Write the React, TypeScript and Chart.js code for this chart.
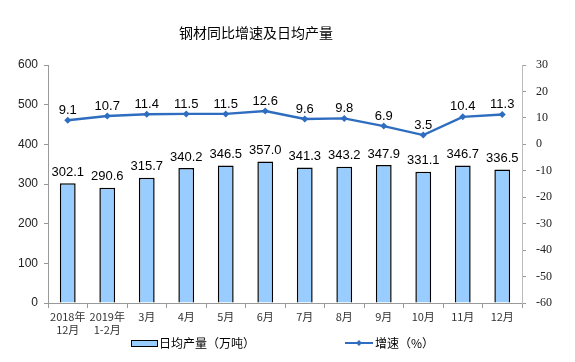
import React, { useEffect, useRef } from "react";
import { Chart, registerables } from "chart.js";

Chart.register(...registerables);

const categories: string[][] = [
  ["2018年", "12月"], ["2019年", "1-2月"], ["3月"], ["4月"], ["5月"], ["6月"],
  ["7月"], ["8月"], ["9月"], ["10月"], ["11月"], ["12月"],
];
const dailyOutput = [302.1, 290.6, 315.7, 340.2, 346.5, 357.0, 341.3, 343.2, 347.9, 331.1, 346.7, 336.5];
const growthRate = [9.1, 10.7, 11.4, 11.5, 11.5, 12.6, 9.6, 9.8, 6.9, 3.5, 10.4, 11.3];
const title = "钢材同比增速及日均产量";
const barLabel = "日均产量（万吨）";
const lineLabel = "增速（%）";

const BAR_FILL = "#99CCFF";
const LINE_COLOR = "#2E6DBF";

const overlay = {
  id: "overlay",
  afterDatasetsDraw(chart: any) {
    const ctx = chart.ctx;
    ctx.save();
    // data labels
    ctx.fillStyle = "#000";
    ctx.textAlign = "center";
    ctx.textBaseline = "middle";
    ctx.font = "13px 'Liberation Sans', Arial, sans-serif";
    const barMeta = chart.getDatasetMeta(0);
    barMeta.data.forEach((el: any, i: number) => {
      ctx.fillText(dailyOutput[i].toFixed(1), el.x, el.y - 11);
    });
    const lineMeta = chart.getDatasetMeta(1);
    lineMeta.data.forEach((el: any, i: number) => {
      ctx.fillText(growthRate[i].toFixed(1), el.x, el.y - 10);
    });
    // title
    ctx.font = "14px 'Noto Sans CJK SC', sans-serif";
    ctx.fillText(title, 256, 33);
    // legend
    const ly = 343;
    ctx.fillStyle = BAR_FILL;
    ctx.fillRect(131, ly - 3, 26, 6);
    ctx.strokeStyle = "#000";
    ctx.lineWidth = 1;
    ctx.strokeRect(131.5, ly - 2.5, 26, 6);
    ctx.fillStyle = "#000";
    ctx.textAlign = "left";
    ctx.font = "12px 'Noto Sans CJK SC', sans-serif";
    ctx.fillText(barLabel, 159, ly);
    ctx.strokeStyle = LINE_COLOR;
    ctx.lineWidth = 2;
    ctx.beginPath();
    ctx.moveTo(345, ly);
    ctx.lineTo(373, ly);
    ctx.stroke();
    ctx.fillStyle = LINE_COLOR;
    ctx.beginPath();
    ctx.moveTo(359, ly - 3);
    ctx.lineTo(362, ly);
    ctx.lineTo(359, ly + 3);
    ctx.lineTo(356, ly);
    ctx.closePath();
    ctx.fill();
    ctx.fillStyle = "#000";
    ctx.fillText(lineLabel, 375, ly);
    ctx.restore();
  },
};

export default function App() {
  const ref = useRef<HTMLCanvasElement>(null);
  useEffect(() => {
    if (!ref.current) return;
    const chart = new Chart(ref.current, {
      type: "bar",
      data: {
        labels: categories,
        datasets: [
          {
            type: "bar",
            label: barLabel,
            data: dailyOutput,
            backgroundColor: BAR_FILL,
            borderColor: "#000",
            borderWidth: 1.5,
            barPercentage: 0.4,
            categoryPercentage: 1,
            yAxisID: "y",
            order: 2,
          },
          {
            type: "line",
            label: lineLabel,
            data: growthRate,
            borderColor: LINE_COLOR,
            backgroundColor: LINE_COLOR,
            borderWidth: 2.4,
            pointStyle: "rectRot",
            pointRadius: 3.5,
            pointBorderWidth: 0,
            tension: 0,
            yAxisID: "y1",
            order: 1,
          } as any,
        ],
      },
      options: {
        responsive: false,
        animation: false,
        layout: { padding: { top: 65, left: 0, right: 0, bottom: 0 } },
        plugins: { legend: { display: false }, tooltip: { enabled: false }, title: { display: false } },
        scales: {
          x: {
            offset: true,
            grid: { offset: true, drawOnChartArea: false, drawTicks: true, tickLength: 5, color: "#999" },
            border: { color: "#999" },
            ticks: {
              color: "#333",
              font: { family: "'Noto Sans CJK SC', sans-serif", size: 11 },
              padding: 2,
              maxRotation: 0,
              autoSkip: false,
            },
            afterFit(s: any) { s.height = 59; },
          },
          y: {
            position: "left",
            min: 0,
            max: 600,
            ticks: { stepSize: 100, color: "#222", font: { family: "'Liberation Sans', Arial, sans-serif", size: 12 }, padding: 6 },
            grid: { drawOnChartArea: false, tickLength: 4, color: "#999" },
            border: { color: "#999" },
            afterFit(s: any) { s.width = 48; },
          },
          y1: {
            position: "right",
            min: -60,
            max: 30,
            ticks: { stepSize: 10, color: "#222", font: { family: "'Liberation Serif', 'Times New Roman', serif", size: 12 }, padding: 10 },
            grid: { drawOnChartArea: false, tickLength: 4, color: "#999" },
            border: { color: "#bbb" },
            afterFit(s: any) { s.width = 53; },
          },
        },
      },
      plugins: [overlay],
    });
    return () => chart.destroy();
  }, []);
  return (
    <div style={{ position: "fixed", left: 0, top: 0, width: 575, height: 362, background: "#fff" }}>
      <canvas ref={ref} width={575} height={362} />
    </div>
  );
}
